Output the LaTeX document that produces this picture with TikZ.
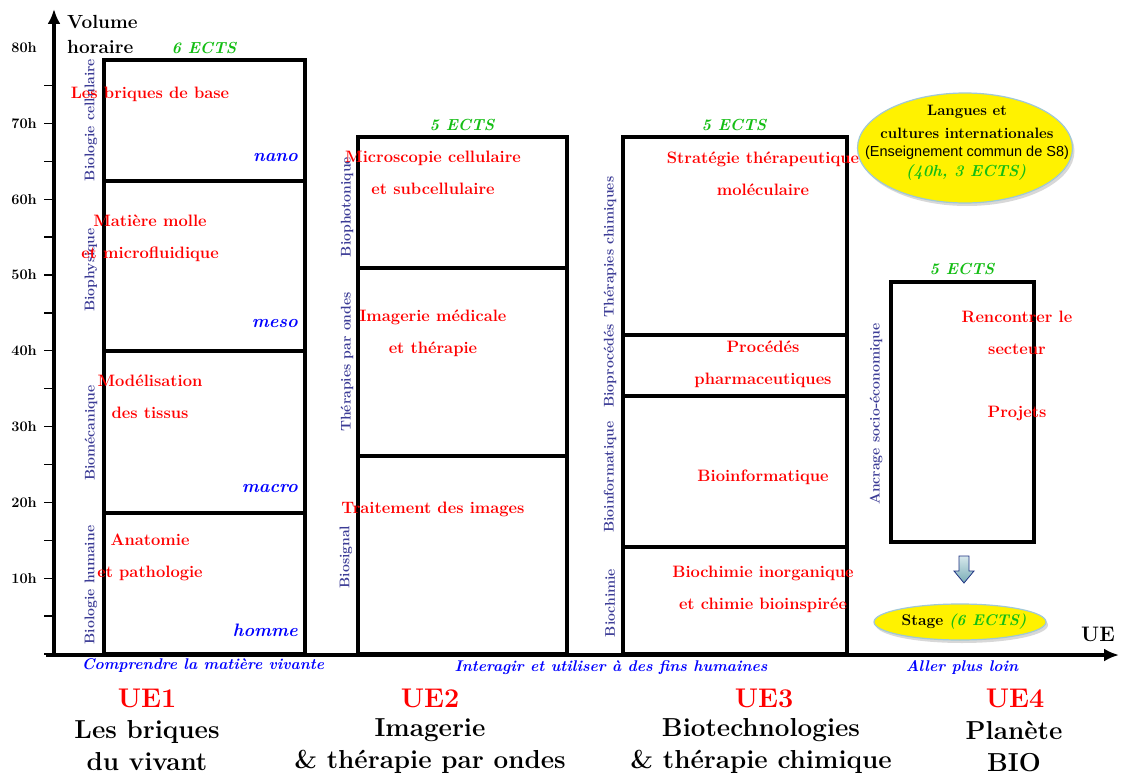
\documentclass[tikz,border=0pt]{standalone}
\usepackage{fontspec}
\newfontfamily\arialf{Liberation Sans}
\usetikzlibrary{arrows.meta,shapes.geometric,shadows,fit}
\definecolor{ured}{RGB}{255,0,0}
\definecolor{ublue}{RGB}{0,0,255}
\definecolor{slab}{RGB}{60,60,150}
\definecolor{egreen}{RGB}{20,190,20}
\definecolor{ellb}{RGB}{160,200,215}
\definecolor{arrtopc}{RGB}{215,232,236}
\definecolor{arrbotc}{RGB}{120,172,182}
\definecolor{arrline}{RGB}{30,50,130}
\newcommand\fsz[2]{\fontsize{#1}{#2}\selectfont}
\begin{document}
\begin{tikzpicture}[x=1pt,y=-1pt,
  box/.style={draw, line width=4pt, inner sep=0pt},
  side/.style={rotate=90, text=slab, font=\fsz{14}{16}\bfseries, inner sep=0pt},
  content/.style={text=ured, font=\fsz{16.5}{32}\bfseries, align=center, inner sep=0pt},
  sizew/.style={text=ublue, font=\fsz{18}{20}\bfseries\itshape, anchor=east, inner sep=0pt},
  ects/.style={text=egreen, font=\fsz{16}{18}\bfseries\itshape, inner sep=0pt},
  theme/.style={text=ublue, font=\fsz{15.5}{18}\bfseries\itshape, inner sep=0pt},
  uenum/.style={text=ured, font=\fsz{27}{32}\bfseries, inner sep=0pt},
  uetitle/.style={font=\fsz{26}{32}\bfseries, align=center, inner sep=0pt},
  hlab/.style={font=\fsz{14.5}{16}\bfseries, anchor=east, inner sep=0pt},
  axisline/.style={line width=4pt, -{Latex[length=15pt,width=13pt]}},
  bubble/.style={ellipse, fill=yellow, draw=ellb, line width=1.2pt,
    drop shadow={opacity=0.3, shadow xshift=2pt, shadow yshift=-3pt}, inner sep=0pt}
]
\useasboundingbox[fill=white] (0,0) rectangle (1122,776);

% boxes
\node[box, fit={(104,60) (305,181)}] (b1a) {};
\node[box, fit={(104,181) (305,351)}] (b1b) {};
\node[box, fit={(104,351) (305,513)}] (b1c) {};
\node[box, fit={(104,513) (305,654)}] (b1d) {};
\node[box, fit={(358,137) (567,268)}] (b2a) {};
\node[box, fit={(358,268) (567,456)}] (b2b) {};
\node[box, fit={(358,456) (567,654)}] (b2c) {};
\node[box, fit={(623,137) (847,335)}] (b3a) {};
\node[box, fit={(623,335) (847,396)}] (b3b) {};
\node[box, fit={(623,396) (847,547)}] (b3c) {};
\node[box, fit={(623,547) (847,654)}] (b3d) {};
\node[box, fit={(891,282) (1034,542)}] (b4) {};

% axes
\coordinate (ybot) at (54,656);
\coordinate (ytop) at (54,9);
\coordinate (xl) at (46,655);
\coordinate (xr) at (1119,655);
\draw[axisline] (ybot) -- (ytop);
\draw[axisline] (xl) -- (xr);
\foreach \h in {0,5,...,75} \draw[line width=1.3pt] (44,{654-7.58*\h}) -- (54,{654-7.58*\h});
\foreach \h in {10,20,...,80} \node[hlab] (h\h) at (37,{654-7.58*\h}) {\h h};
\node[font=\fsz{19}{25}\bfseries, align=left, anchor=west, inner sep=0pt] (vh) at (67,34.5) {Volume\\horaire};
\node[font=\fsz{21}{24}\bfseries, inner sep=0pt] (ue) at (1098,634) {UE};

% side labels
\node[side] (s1a) at (91,120) {Biologie cellulaire};
\node[side] (s1b) at (91,270) {Biophysique};
\node[side] (s1c) at (91,433) {Biomécanique};
\node[side] (s1d) at (91,585) {Biologie humaine};
\node[side] (s2a) at (347,207) {Biophotonique};
\node[side] (s2b) at (347,362) {Thérapies par ondes};
\node[side] (s2c) at (346,557) {Biosignal};
\node[side] (s3a) at (610,247) {Thérapies chimiques};
\node[side] (s3b) at (610,366) {Bioprocédés};
\node[side] (s3c) at (610,477) {Bioinformatique};
\node[side] (s3d) at (610,603) {Biochimie};
\node[side] (s4) at (876,414) {Ancrage socio-économique};

% contents
\node[content] (c1a) at (150,94) {Les briques de base};
\node[content] (c1b) at (150,238) {Matière molle\\et microfluidique};
\node[content] (c1c) at (150,397) {Modélisation\\des tissus};
\node[content] (c1d) at (150,557) {Anatomie\\et pathologie};
\node[content] (c2a) at (433,173) {Microscopie cellulaire\\et subcellulaire};
\node[content] (c2b) at (433,333) {Imagerie médicale\\et thérapie};
\node[content] (c2c) at (433,509) {Traitement des images};
\node[content] (c3a) at (763,174) {Stratégie thérapeutique\\moléculaire};
\node[content] (c3b) at (763,364) {Procédés\\pharmaceutiques};
\node[content] (c3c) at (763,477) {Bioinformatique};
\node[content] (c3d) at (763,589) {Biochimie inorganique\\et chimie bioinspirée};
\node[content] (c4a) at (1017,333) {Rencontrer le\\secteur};
\node[content] (c4b) at (1017,413) {Projets};

% scale words
\node[sizew] (w1) at (298,158) {nano};
\node[sizew] (w2) at (298,324) {meso};
\node[sizew] (w3) at (298,488) {macro};
\node[sizew] (w4) at (298,630) {homme};

% ECTS
\node[ects] (e1) at (204,48) {6 ECTS};
\node[ects] (e2) at (462,125) {5 ECTS};
\node[ects] (e3) at (734,125) {5 ECTS};
\node[ects] (e4) at (962,269) {5 ECTS};

% themes
\node[theme] (t1) at (203,666) {Comprendre la matière vivante};
\node[theme] (t2) at (611,668) {Interagir et utiliser à des fins humaines};
\node[theme] (t3) at (962,667) {Aller plus loin};

% UE titles
\node[uenum] (n1) at (147,698) {UE1};
\node[uenum] (n2) at (430,698) {UE2};
\node[uenum] (n3) at (764,698) {UE3};
\node[uenum] (n4) at (1015,698) {UE4};
\node[uetitle] (u1) at (147,746) {Les briques\\du vivant};
\node[uetitle] (u2) at (430,746) {Imagerie\\\& thérapie par ondes};
\node[uetitle] (u3) at (761,746) {Biotechnologies\\\& thérapie chimique};
\node[uetitle] (u4) at (1014,746) {Planète\\BIO};

% langues bubble
\node[bubble, minimum width=215, minimum height=110] (lang) at (965,148) {};
\node[font=\fsz{15}{18}\bfseries, inner sep=0pt] (l1) at (967,112) {Langues et};
\node[font=\fsz{15}{18}\bfseries, inner sep=0pt] (l2) at (967,133) {cultures internationales};
\node[font=\fsz{14.5}{17}\arialf, inner sep=0pt] (l3) at (967,153) {(Enseignement commun de S8)};
\node[font=\fsz{16}{18}\bfseries\itshape, text=egreen, inner sep=0pt] (l4) at (966,172) {(40h, 3 ECTS)};

% arrow to stage
\draw[draw=arrline, line width=0.8pt, top color=arrtopc, bottom color=arrbotc]
  (959,556) -- (969,556) -- (969,571) -- (974,571) -- (964,583) -- (954,571) -- (959,571) -- cycle;

% stage bubble
\node[bubble, minimum width=172, minimum height=36] (stage) at (960,622) {};
\node[font=\fsz{15.5}{18}\bfseries, inner sep=0pt] (stg) at (964,622) {Stage \textcolor{egreen}{\itshape (6 ECTS)}};
\end{tikzpicture}
\end{document}
